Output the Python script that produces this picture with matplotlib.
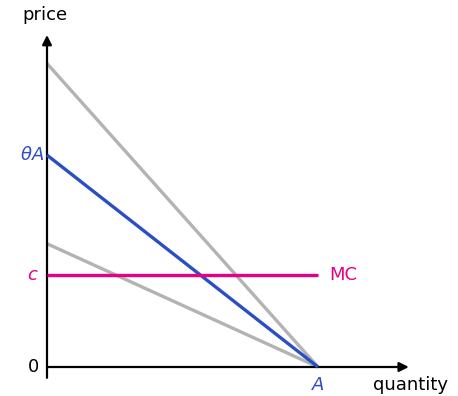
import matplotlib
matplotlib.use("Agg")
import matplotlib.pyplot as plt

# quantity intercept A = 1, price intercepts of the demand curves
A = 1.0
gray_intercepts = [1.12, 0.455]
blue_intercept = 0.782
c = 0.34

fig = plt.figure(figsize=(4.58, 3.96), dpi=100)
ax = fig.add_axes([0, 0, 1, 1])
scale = 271.0
ax.set_xlim(-47 / scale, (458 - 47) / scale)
ax.set_ylim((367 - 396) / scale, 367 / scale)
ax.axis("off")

# axes with arrows
ax.annotate("", xy=(0, 1.225), xytext=(0, -0.04),
            arrowprops=dict(arrowstyle="-|>", color="black", lw=1.6, mutation_scale=14, shrinkA=0, shrinkB=0))
ax.annotate("", xy=(1.335, 0), xytext=(0, 0),
            arrowprops=dict(arrowstyle="-|>", color="black", lw=1.6, mutation_scale=14, shrinkA=0, shrinkB=0))

for g in gray_intercepts:
    ax.plot([0, A], [g, 0], color="#b3b3b3", lw=2.4, solid_capstyle="butt", zorder=2)
ax.plot([0, A], [blue_intercept, 0], color="#2a4fc4", lw=2.4, solid_capstyle="butt", zorder=3)
ax.plot([0, A], [c, c], color="#e8007f", lw=2.4, solid_capstyle="butt", zorder=4)

fs = 13
ax.text(-0.09, 1.30, "price", fontsize=fs, ha="left", va="center")
ax.text(1.48, -0.068, "quantity", fontsize=fs, ha="right", va="center")
ax.text(-0.03, 0, "0", fontsize=fs, ha="right", va="center")
ax.text(-0.01, blue_intercept, r"$\theta A$", fontsize=fs, ha="right", va="center", color="#2a4fc4")
ax.text(-0.03, c, r"$c$", fontsize=fs, ha="right", va="center", color="#e8007f")
ax.text(A, -0.065, r"$A$", fontsize=fs, ha="center", va="center", color="#2a4fc4")
ax.text(A + 0.04, c, "MC", fontsize=fs, ha="left", va="center", color="#e8007f")

fig.savefig("out.png", dpi=100)
